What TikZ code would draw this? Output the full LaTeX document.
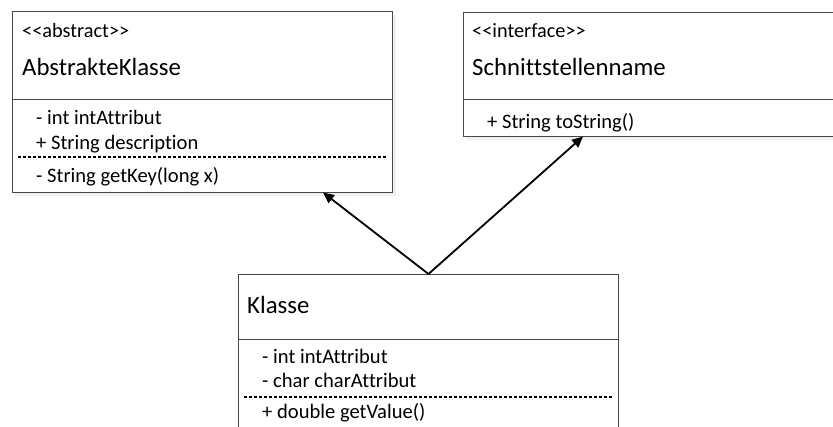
\documentclass[tikz,border=0pt]{standalone}
\usepackage{fontspec}
\setmainfont{Carlito}[Ligatures={NoCommon}]
\usetikzlibrary{arrows.meta}
\newcommand{\dlt}{<\kern0pt<}
\newcommand{\dgt}{>\kern0pt>}
\definecolor{shade}{RGB}{232,240,250}
\begin{document}
\begin{tikzpicture}[x=1pt,y=-1pt,
  box/.style={draw=black!72, line width=1pt, fill=white, anchor=north west, inner sep=0pt},
  sep/.style={draw=black!72, line width=0.8pt},
  dsep/.style={draw=black, line width=1.4pt, dash pattern=on 3pt off 2pt},
  soft/.style={draw=shade, line width=3pt},
  stereo/.style={anchor=base west, inner sep=0pt, font=\fontsize{20.3}{23}\selectfont},
  title/.style={anchor=base west, inner sep=0pt, font=\fontsize{24.8}{28}\selectfont},
  member/.style={anchor=base west, inner sep=0pt, font=\fontsize{20.6}{24}\selectfont},
  inherit/.style={draw=black, line width=1.8pt, -{Triangle[length=11pt,width=10pt]}}]
\clip (0,0) rectangle (833,426);
\fill[white] (0,0) rectangle (833,426);
% soft shadows
\draw[soft] (15,194.5) -- (394.5,194.5) -- (394.5,15);
\draw[soft] (466,138.5) -- (840,138.5);
% Box A
\node[box, minimum width=380pt, minimum height=181pt] (A) at (12,11) {};
\draw[sep] (12,99) -- (392,99);
\draw[dsep] (18,157) -- (387,157);
\node[stereo] (As) at (22,37) {\dlt abstract\dgt};
\node[title] (At) at (22,75) {AbstrakteKlasse};
\node[member] (A1) at (36,124) {- int intAttribut};
\node[member] (A2) at (36,149) {+ String description};
\node[member] (A3) at (36,182) {- String getKey(long x)};
% Box B
\node[box, minimum width=390pt, minimum height=124pt] (B) at (463,12) {};
\draw[sep] (463,99) -- (853,99);
\node[stereo] (Bs) at (472,37) {\dlt interface\dgt};
\node[title] (Bt) at (472,75) {Schnittstellenname};
\node[member] (B1) at (487,128) {+ String toString()};
% Box C
\node[box, minimum width=380pt, minimum height=170pt] (C) at (238,274) {};
\draw[sep] (238,339) -- (618,339);
\draw[dsep] (244,397) -- (613,397);
\node[title] (Ct) at (247,313) {Klasse};
\node[member] (C1) at (262,363) {- int intAttribut};
\node[member] (C2) at (262,387) {- char charAttribut};
\node[member] (C3) at (262,418) {+ double getValue()};
% connectors
\coordinate (Atip) at (323,192.5);
\coordinate (Btip) at (583,136.5);
\draw[inherit] (C.north) -- (Atip);
\draw[inherit] (C.north) -- (Btip);
\end{tikzpicture}
\end{document}
